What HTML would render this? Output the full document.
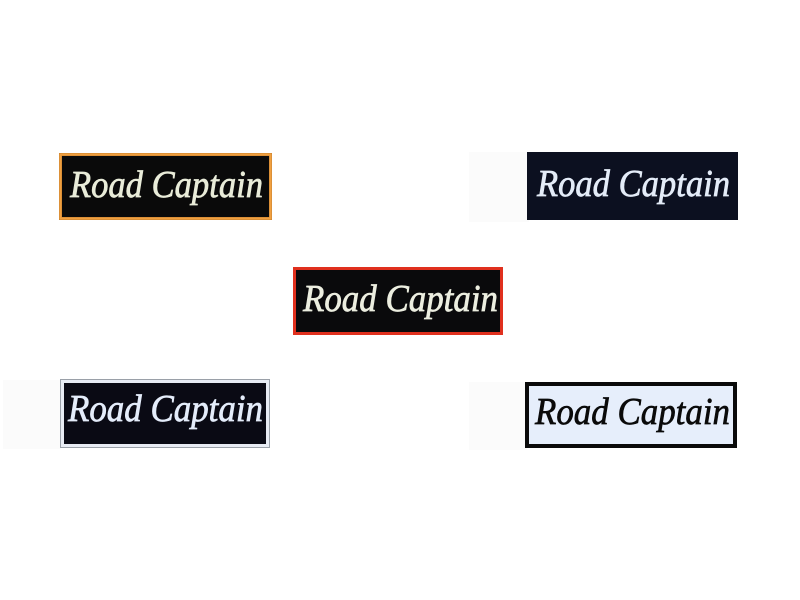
<!DOCTYPE html>
<html><head><meta charset="utf-8"><style>
html,body{margin:0;padding:0;background:#fff;}
svg{display:block;}
text{font-family:"Liberation Serif",serif;font-style:italic;font-size:38px;stroke-width:0.7;}
</style></head><body>
<svg width="800" height="600" viewBox="0 0 800 600" xmlns="http://www.w3.org/2000/svg">
<rect width="800" height="600" fill="#fff"/>
<!-- faint backgrounds -->
<rect x="469" y="152" width="60" height="70" fill="#fbfbfb"/>
<rect x="3" y="380" width="58" height="69" fill="#fbfbfb"/>
<rect x="469" y="382" width="58" height="68" fill="#fbfbfb"/>

<!-- Patch 1 orange -->
<rect x="59" y="153" width="213" height="67" fill="#c9802e"/>
<rect x="60.5" y="154.5" width="210" height="64" fill="none" stroke="#f0a040" stroke-width="2"/>
<rect x="62" y="156" width="207" height="61" fill="#0a0a0a"/>
<text x="70" y="197" fill="#e9ecd9" stroke="#e9ecd9" textLength="193" lengthAdjust="spacingAndGlyphs">Road Captain</text>

<!-- Patch 2 navy plain -->
<rect x="527" y="152" width="211" height="68" fill="#0c1020"/>
<text x="537" y="196" fill="#e4ecf8" stroke="#e4ecf8" textLength="193" lengthAdjust="spacingAndGlyphs">Road Captain</text>

<!-- Patch 3 red -->
<rect x="293" y="267" width="210" height="68" fill="#e0301e"/>
<rect x="296" y="270" width="204" height="62" fill="#0a0a0c"/>
<text x="303" y="311" fill="#eceee0" stroke="#eceee0" textLength="195" lengthAdjust="spacingAndGlyphs">Road Captain</text>

<!-- Patch 4 white border -->
<rect x="60" y="379" width="210" height="69" fill="#9aa0a8"/>
<rect x="61" y="380" width="208" height="67" fill="#e8ecf4"/>
<rect x="64" y="383" width="202" height="61" fill="#0a0a14"/>
<text x="68" y="421" fill="#e4ecfa" stroke="#e4ecfa" textLength="195" lengthAdjust="spacingAndGlyphs">Road Captain</text>

<!-- Patch 5 white with black border -->
<rect x="525" y="382" width="212" height="66" fill="#0a0a0a"/>
<rect x="529" y="386" width="204" height="58" fill="#e6eefb"/>
<text x="535" y="424" fill="#0a0a0a" stroke="#0a0a0a" textLength="195" lengthAdjust="spacingAndGlyphs">Road Captain</text>
</svg>
</body></html>
